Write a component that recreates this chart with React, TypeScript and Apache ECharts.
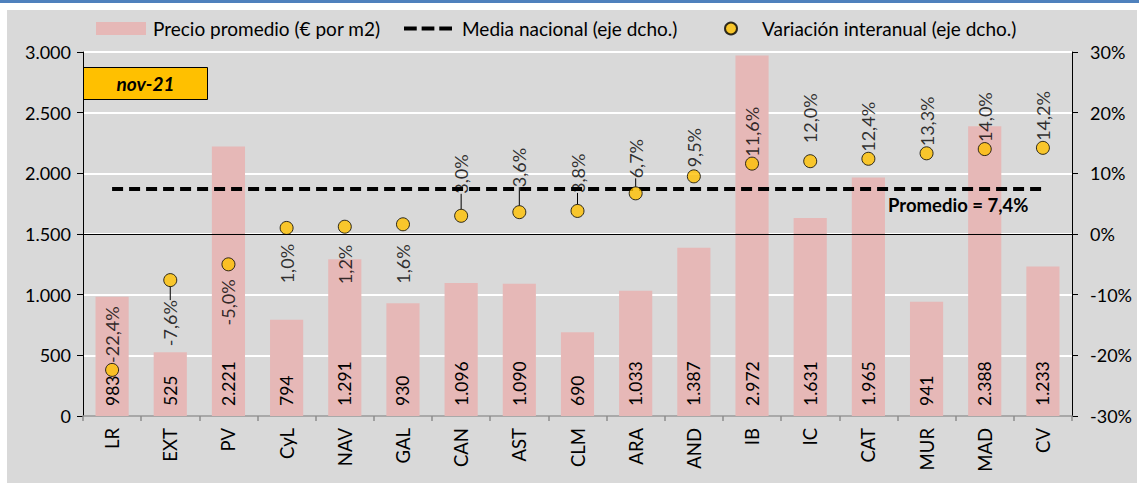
import React, { useEffect, useRef } from 'react';
import * as echarts from 'echarts';

const categories = ['LR', 'EXT', 'PV', 'CyL', 'NAV', 'GAL', 'CAN', 'AST', 'CLM', 'ARA', 'AND', 'IB', 'IC', 'CAT', 'MUR', 'MAD', 'CV'];
const precioPromedio = [983, 525, 2221, 794, 1291, 930, 1096, 1090, 690, 1033, 1387, 2972, 1631, 1965, 941, 2388, 1233];
const variacionInteranual = [-22.4, -7.6, -5.0, 1.0, 1.2, 1.6, 3.0, 3.6, 3.8, 6.7, 9.5, 11.6, 12.0, 12.4, 13.3, 14.0, 14.2];
const mediaNacional = 7.4;
const fechaEtiqueta = 'nov-21';
const promedioTexto = 'Promedio = 7,4%';
const legendNames = ['Precio promedio (€ por m2)', 'Media nacional (eje dcho.)', 'Variación interanual (eje dcho.)'];

// label placement for the variation labels (style only)
const labelSide = ['top', 'bottom', 'bottom', 'bottom', 'bottom', 'bottom', 'top', 'top', 'top', 'top', 'top', 'top', 'top', 'top', 'top', 'top', 'top'];
const labelGap = [0, 13, 8, 9, 11, 13, 15, 18, 11, 8, 2, 0, 11, 0, 0, 0, 0];
const labelLeader = [false, true, false, false, false, false, true, true, true, true, false, false, false, false, false, false, false];

const FONT = 'Lato, "Noto Sans", sans-serif';
const TXT = '#000';
const DASH_ICON = 'path://M0,0h13v4h-13z M18,0h13v4h-13z M36,0h13v4h-13z';

const fmtMiles = (n: number) => String(n).replace(/\B(?=(\d{3})+(?!\d))/g, '.');
const fmtPct = (v: number) => v.toFixed(1).replace('.', ',') + '%';

export default function App() {
  const ref = useRef<HTMLDivElement>(null);
  useEffect(() => {
    document.body.style.margin = '0';
    if (!ref.current) return;
    const chart = echarts.init(ref.current, undefined, { renderer: 'svg' });

    const scatterData = variacionInteranual.map((v, i) => ({
      value: v,
      label: {
        position: labelSide[i],
        distance: labelGap[i],
        align: labelSide[i] === 'top' ? 'left' : 'right',
      },
      labelLine: labelLeader[i]
        ? { show: true, length2: 0, lineStyle: { color: '#000', width: 1 } }
        : { show: false },
    }));

    const legendText = { fontSize: 19, color: TXT, fontFamily: FONT };

    const option: any = {
      animation: false,
      backgroundColor: '#ffffff',
      textStyle: { fontFamily: FONT },
      graphic: [
        { type: 'rect', z: -100, shape: { x: 0, y: 0, width: 1139, height: 3 }, style: { fill: '#4F81BD' }, silent: true },
        { type: 'rect', z: -100, shape: { x: 7, y: 10, width: 1130, height: 473 }, style: { fill: '#D9D9D9' }, silent: true },
        {
          type: 'group',
          left: 83,
          top: 67,
          z: 100,
          children: [
            { type: 'rect', shape: { x: 0, y: 0, width: 124, height: 32 }, style: { fill: '#FFC000', stroke: '#000', lineWidth: 1 } },
            {
              type: 'text',
              x: 62,
              y: 16,
              style: { text: fechaEtiqueta, font: `italic bold 19px ${FONT}`, fill: '#000', align: 'center', verticalAlign: 'middle' },
            },
          ],
        },
        {
          type: 'text',
          left: 888,
          top: 195,
          z: 100,
          style: { text: promedioTexto, font: `bold 18.5px ${FONT}`, fill: '#000' },
        },
      ],
      legend: [
        {
          data: [{ name: legendNames[0], icon: 'rect' }],
          left: 96, top: 19, padding: 0,
          itemWidth: 50, itemHeight: 13,
          textStyle: { ...legendText, padding: [0, 0, 0, 2] },
          selectedMode: false,
        },
        {
          data: [{ name: legendNames[1], icon: DASH_ICON }],
          left: 404, top: 19, padding: 0,
          itemWidth: 48, itemHeight: 13,
          itemStyle: { color: '#000' },
          textStyle: { ...legendText, padding: [0, 0, 0, 5] },
          selectedMode: false,
        },
        {
          data: [{ name: legendNames[2], icon: 'circle' }],
          left: 724, top: 19, padding: 0,
          itemWidth: 12, itemHeight: 12,
          textStyle: { ...legendText, padding: [0, 0, 0, 20] },
          selectedMode: false,
        },
      ],
      grid: { left: 83, right: 67, top: 52, bottom: 67, containLabel: false },
      xAxis: {
        type: 'category',
        data: categories,
        axisLine: { lineStyle: { color: '#8c8c8c', width: 1.5 } },
        axisTick: { show: true, length: 5, lineStyle: { color: '#8c8c8c', width: 1.5 } },
        axisLabel: { rotate: 90, fontSize: 18.5, color: TXT, fontFamily: FONT, margin: 12, interval: 0 },
      },
      yAxis: [
        {
          type: 'value',
          min: 0, max: 3000, interval: 500,
          axisLine: { show: true, lineStyle: { color: '#000', width: 1 } },
          axisTick: { show: true, length: 6, lineStyle: { color: '#000' } },
          axisLabel: { fontSize: 18, color: TXT, fontFamily: FONT, margin: 12, formatter: (v: number) => fmtMiles(v) },
          splitLine: { show: true, lineStyle: { color: '#ffffff', width: 2 } },
        },
        {
          type: 'value',
          min: -30, max: 30, interval: 10,
          position: 'right',
          axisLine: { show: true, lineStyle: { color: '#000', width: 1 } },
          axisTick: { show: true, length: 6, lineStyle: { color: '#000' } },
          axisLabel: { fontSize: 18, color: TXT, fontFamily: FONT, margin: 18, formatter: (v: number) => v + '%' },
          splitLine: { show: false },
        },
      ],
      series: [
        {
          name: legendNames[0],
          type: 'bar',
          yAxisIndex: 0,
          data: precioPromedio,
          barWidth: '57%',
          itemStyle: { color: '#E6B8B7' },
          label: {
            show: true,
            position: 'insideBottom',
            rotate: 90,
            align: 'left',
            verticalAlign: 'middle',
            distance: 10,
            fontSize: 17.5,
            color: TXT,
            fontFamily: FONT,
            formatter: (p: any) => fmtMiles(p.value),
          },
          z: 2,
        },
        {
          name: legendNames[1],
          type: 'line',
          yAxisIndex: 1,
          data: categories.map(() => mediaNacional),
          symbol: 'none',
          lineStyle: { color: '#000', width: 4, type: [11, 6] },
          itemStyle: { color: '#000' },
          z: 3,
          markLine: {
            silent: true,
            symbol: 'none',
            label: { show: false },
            lineStyle: { color: '#000', width: 1.2, type: 'solid' },
            data: [{ yAxis: 0 }],
          },
        },
        {
          name: legendNames[2],
          type: 'scatter',
          yAxisIndex: 1,
          data: scatterData,
          symbol: 'circle',
          symbolSize: 13,
          itemStyle: { color: '#FFC000', borderColor: '#000', borderWidth: 1 },
          label: {
            show: true,
            rotate: 90,
            verticalAlign: 'middle',
            fontSize: 18,
            color: TXT,
            fontFamily: FONT,
            formatter: (p: any) => fmtPct(p.value),
          },
          z: 4,
        },
      ],
    };
    chart.setOption(option);
    return () => chart.dispose();
  }, []);
  return <div ref={ref} style={{ width: 1139, height: 483 }} />;
}
